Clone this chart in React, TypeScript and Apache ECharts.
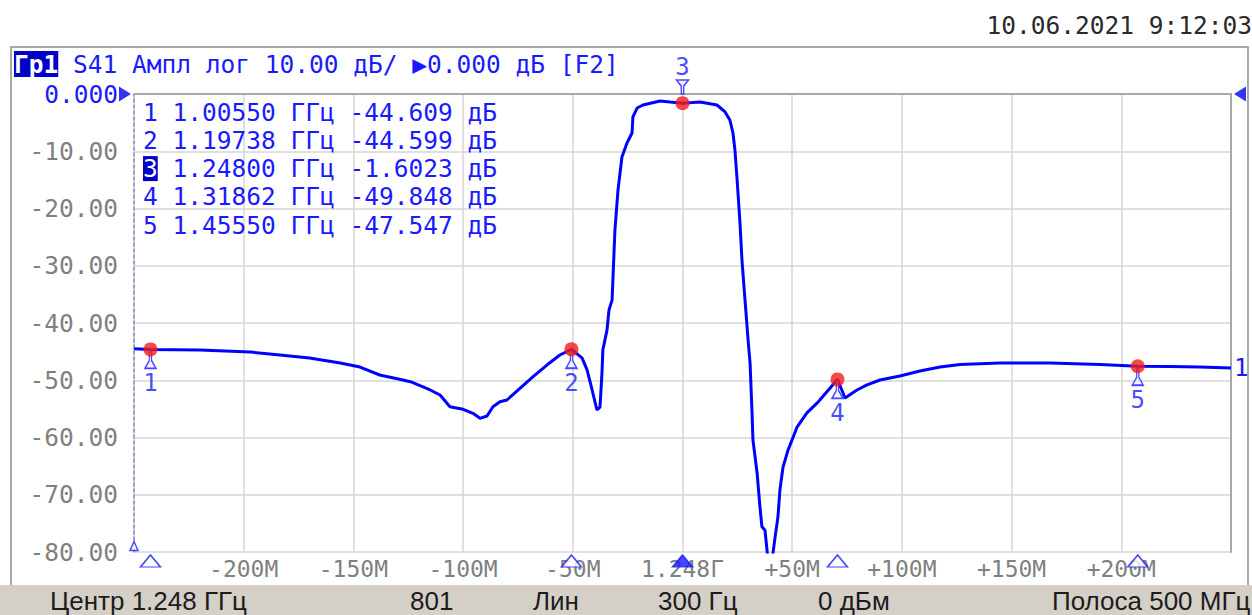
import React, { useEffect, useRef } from "react";
import * as echarts from "echarts";

// ---- axis definition ----
const centerGHz = 1.248;
const spanMHz = 500;
const xStepMHz = 50;
const yMinDb = -80;
const yMaxDb = 0;
const yStepDb = 10;
const refLevelDb = 0;

// ---- trace S41 (offset from centre, MHz / dB) ----
const traceOffsetMHz = [
  -250, -242.5, -220, -197, -183.5, -170, -156, -147, -138, -129, -124, -115,
  -110.5, -106, -100, -95.5, -92.3, -89.1, -86.4, -83.2, -80, -74.1, -68.1,
  -61.8, -55.9, -50.62, -45.8, -43.5, -41.2, -39.0, -37.6, -36.7, -36.3, -34.4,
  -33.5, -32.1, -30.8, -29.4, -27.6, -25.3, -23.0, -22.6, -20.7, -18.0, -10.3,
  -5.7, 0, 8.0, 15.7, 19.4, 21.6, 23.0, 23.9, 24.8, 26.2, 27.1, 28.5, 29.9,
  30.8, 31.7, 32.1, 34.0, 35.3, 36.2, 37.6, 39.0, 40.8, 42.2, 43.5, 44.4, 45.8,
  48.1, 52.2, 56.7, 61.3, 67.2, 70.62, 74.1, 79.5, 84.1, 90.0, 99.1, 108.2,
  117.4, 126.5, 144.7, 167.5, 190.3, 207.5, 222.2, 235.8, 250,
];
const traceDb = [
  -44.5, -44.609, -44.72, -45.07, -45.59, -46.11, -46.99, -47.7, -49.08, -49.83,
  -50.25, -51.7, -52.58, -54.62, -55.07, -55.77, -56.65, -56.24, -54.62, -53.75,
  -53.45, -51.4, -49.38, -47.34, -45.59, -44.599, -46.1, -48.2, -51.7, -55.2,
  -54.7, -48.7, -44.7, -41.2, -37.7, -36.0, -23.8, -16.8, -11.0, -8.56, -6.81,
  -4.0, -2.45, -1.92, -1.22, -1.4, -1.6023, -1.4, -1.92, -3.14, -4.54, -6.81,
  -9.78, -14.5, -22.5, -29.0, -36.0, -43.0, -47.0, -55.7, -60.4, -66.2, -72.1,
  -75.6, -76.2, -81.5, -81.5, -77.4, -73.9, -69.2, -65.2, -62.2, -58.2, -55.7,
  -54.0, -51.4, -49.848, -53.1, -51.7, -50.8, -49.96, -49.26, -48.38, -47.69,
  -47.25, -46.99, -46.99, -47.25, -47.547, -47.6, -47.69, -47.86,
];

// ---- markers ----
const markerIds = [1, 2, 3, 4, 5];
const markerFreqGHz = [1.0055, 1.19738, 1.248, 1.31862, 1.4555];
const markerDb = [-44.609, -44.599, -1.6023, -49.848, -47.547];
const activeMarker = 3;

// ---- texts ----
const traceName = "Гр1";
const headerText = "S41 Ампл лог 10.00 дБ/ ▶0.000 дБ [F2]";
const dateText = "10.06.2021 9:12:03";
const statusTexts = ["Центр 1.248 ГГц", "801", "Лин", "300 Гц", "0 дБм", "Полоса 500 МГц"];

const MONO = '"DejaVu Sans Mono", "Liberation Mono", monospace';
const BLUE = "#1a1aff";
const TRACE = "#0000ff";
const GRAYTXT = "#808080";
const FRAME = "#a8a8a8";

export default function App() {
  const ref = useRef<HTMLDivElement>(null);

  useEffect(() => {
    if (!ref.current) return;
    const chart = echarts.init(ref.current, undefined, { renderer: "svg" });
    const half = spanMHz / 2;
    const toOff = (f: number) => +((f - centerGHz) * 1000).toFixed(3);
    const trace = traceOffsetMHz.map((x, i) => [x, traceDb[i]]);
    const markerPts = markerFreqGHz.map((f, i) => [toOff(f), markerDb[i]]);
    const flagLow = markerPts
      .map((p, i) => ({ p, id: markerIds[i] }))
      .filter((m) => m.p[1] < yMinDb + (yMaxDb - yMinDb) * 0.875);
    const flagHigh = markerPts
      .map((p, i) => ({ p, id: markerIds[i] }))
      .filter((m) => m.p[1] >= yMinDb + (yMaxDb - yMinDb) * 0.875);

    const flagPath = "path://M4,0L6,0L6,9L10,16L0,16L4,9Z";

    const fmtDb = (v: number) => v.toPrecision(5);
    const tableLines = markerIds.map((id, i) => {
      const body = ` ${markerFreqGHz[i].toFixed(5)} ГГц ${fmtDb(markerDb[i])} дБ`;
      return id === activeMarker ? `{hl|${id}}${body}` : `${id}${body}`;
    });

    const statusX = [50, 410, 533, 658, 818, 1052];

    const monoStyle = (size: number) => `${size}px ${MONO}`;

    const option: any = {
      animation: false,
      backgroundColor: "#ffffff",
      grid: {
        left: 134,
        top: 94,
        width: 1097,
        height: 458,
        show: false,
        outerBoundsMode: "none",
      },
      xAxis: [
        {
          type: "value",
          min: -half,
          max: half,
          interval: xStepMHz,
          axisLine: { show: true, lineStyle: { color: FRAME, width: 2 } },
          axisTick: { show: false },
          splitLine: { show: true, lineStyle: { color: "#d6d6d6", width: 1.5 } },
          axisLabel: {
            color: GRAYTXT,
            fontFamily: MONO,
            fontSize: 23,
            margin: 5,
            formatter: (v: number) => {
              if (Math.abs(v) >= half) return "";
              if (v === 0) return centerGHz.toFixed(3) + "Г";
              return (v > 0 ? "+" : "-") + Math.abs(v) + "M";
            },
          },
        },
        {
          type: "value",
          position: "top",
          min: -half,
          max: half,
          axisLine: { show: true, onZero: false, lineStyle: { color: FRAME, width: 2 } },
          axisTick: { show: false },
          axisLabel: { show: false },
          splitLine: { show: false },
        },
      ],
      yAxis: [
        {
          type: "value",
          min: yMinDb,
          max: yMaxDb,
          interval: yStepDb,
          axisLine: {
            show: true,
            onZero: false,
            lineStyle: { color: "#8c8cc0", width: 1.5, type: [3, 3] },
          },
          axisTick: { show: false },
          splitLine: { show: true, lineStyle: { color: "#d6d6d6", width: 1.5 } },
          axisLabel: {
            color: GRAYTXT,
            fontFamily: MONO,
            fontSize: 24.5,
            margin: 16,
            formatter: (v: number) => (v === refLevelDb ? "{z|0.000}" : v.toFixed(2)),
            rich: { z: { color: BLUE, fontFamily: MONO, fontSize: 24.5 } },
          },
        },
        {
          type: "value",
          position: "right",
          min: yMinDb,
          max: yMaxDb,
          axisLine: { show: true, onZero: false, lineStyle: { color: FRAME, width: 2 } },
          axisTick: { show: false },
          axisLabel: { show: false },
          splitLine: { show: false },
        },
      ],
      series: [
        {
          type: "line",
          name: "S41",
          data: trace,
          symbol: "none",
          z: 3,
          lineStyle: { color: TRACE, width: 3 },
          endLabel: {
            show: true,
            formatter: "1",
            color: BLUE,
            fontFamily: MONO,
            fontSize: 24,
            distance: 3,
          },
        },
        {
          type: "scatter",
          name: "flagsLow",
          data: flagLow.map((m) => ({ value: m.p, id: m.id })),
          symbol: flagPath,
          symbolSize: [11, 18],
          symbolOffset: [0, 10],
          z: 4,
          clip: false,
          itemStyle: { color: "#eeeeff", borderColor: BLUE, borderWidth: 1.5 },
          label: {
            show: true,
            position: "bottom",
            distance: 2,
            color: BLUE,
            fontFamily: MONO,
            fontSize: 24,
            formatter: (p: any) => String(p.data.id),
          },
        },
        {
          type: "scatter",
          name: "flagsHigh",
          data: flagHigh.map((m) => ({ value: [m.p[0], yMaxDb], id: m.id })),
          symbol: flagPath,
          symbolRotate: 180,
          symbolSize: [12, 14],
          symbolOffset: [0, -7],
          z: 4,
          clip: false,
          itemStyle: { color: "#eeeeff", borderColor: BLUE, borderWidth: 1.5 },
          label: {
            show: true,
            position: "top",
            distance: 0,
            color: BLUE,
            fontFamily: MONO,
            fontSize: 24,
            formatter: (p: any) => String(p.data.id),
          },
        },
        {
          type: "scatter",
          name: "markers",
          data: markerPts,
          symbol: "circle",
          symbolSize: 14,
          z: 5,
          itemStyle: { color: "#f01c1c" },
        },
        {
          type: "scatter",
          name: "axisMarkers",
          data: markerPts.map((p, i) => ({
            value: [p[0], yMinDb],
            itemStyle:
              markerIds[i] === activeMarker
                ? { color: BLUE, borderColor: BLUE, borderWidth: 1.5 }
                : { color: "#ffffff", borderColor: BLUE, borderWidth: 1.5 },
          })),
          symbol: "triangle",
          symbolSize: [20, 12],
          symbolOffset: [0, 9],
          clip: false,
          z: 6,
        },
        {
          type: "scatter",
          name: "stimMarker",
          data: [[-half, yMinDb]],
          symbol: "triangle",
          symbolSize: [8, 9],
          symbolOffset: [0, -6],
          clip: false,
          z: 6,
          itemStyle: { color: "#ffffff", borderColor: BLUE, borderWidth: 1.5 },
        },
        {
          type: "scatter",
          name: "refLevel",
          data: [
            { value: [-half, refLevelDb], symbolRotate: -90, symbolOffset: [-9, 0] },
            { value: [half, refLevelDb], symbolRotate: 90, symbolOffset: [9, 0] },
          ],
          symbol: "triangle",
          symbolSize: [15, 12],
          clip: false,
          z: 6,
          itemStyle: { color: "#0000ee" },
        },
      ],
      graphic: [
        {
          type: "rect",
          silent: true,
          shape: { x: 11, y: 47, width: 1237, height: 540 },
          style: { fill: "none", stroke: FRAME, lineWidth: 2 },
          z: 1,
        },
        {
          type: "rect",
          silent: true,
          shape: { x: 0, y: 585, width: 1252, height: 30 },
          style: { fill: "#d4d0c8" },
          z: 2,
        },
        {
          type: "text",
          x: 1252,
          y: 25,
          style: {
            text: dateText,
            font: monoStyle(24.5),
            fill: "#2a2a2a",
            align: "right",
            verticalAlign: "middle",
            textAlign: "right",
            textVerticalAlign: "middle",
          },
        },
        {
          type: "text",
          x: 14,
          y: 64,
          style: {
            text: `{box|${traceName}} ${headerText}`,
            font: monoStyle(24.5),
            fill: BLUE,
            align: "left",
            verticalAlign: "middle",
            rich: {
              box: {
                fill: "#ffffff",
                color: "#ffffff",
                backgroundColor: "#0000c8",
                font: `bold 24.5px ${MONO}`,
                padding: [1, 0, 0, 0],
              },
            },
          },
        },
        ...tableLines.map((t, i) => ({
          type: "text",
          x: 143,
          y: 112 + i * 28.3,
          z: 10,
          style: {
            text: t,
            font: monoStyle(24.5),
            fill: BLUE,
            align: "left",
            verticalAlign: "middle",
            rich: {
              hl: {
                fill: "#ffffff",
                color: "#ffffff",
                backgroundColor: "#0000c8",
                font: monoStyle(24.5),
              },
            },
          },
        })),
        ...statusTexts.map((t, i) => ({
          type: "text",
          x: statusX[i],
          y: 601,
          z: 3,
          style: {
            text: t,
            font: '26px "Liberation Sans", Arial, sans-serif',
            fill: "#1c1c1c",
            align: "left",
            verticalAlign: "middle",
          },
        })),
      ],
    };

    chart.setOption(option);
    return () => chart.dispose();
  }, []);

  return (
    <div
      ref={ref}
      style={{ position: "fixed", left: 0, top: 0, width: 1252, height: 615, background: "#fff" }}
    />
  );
}
